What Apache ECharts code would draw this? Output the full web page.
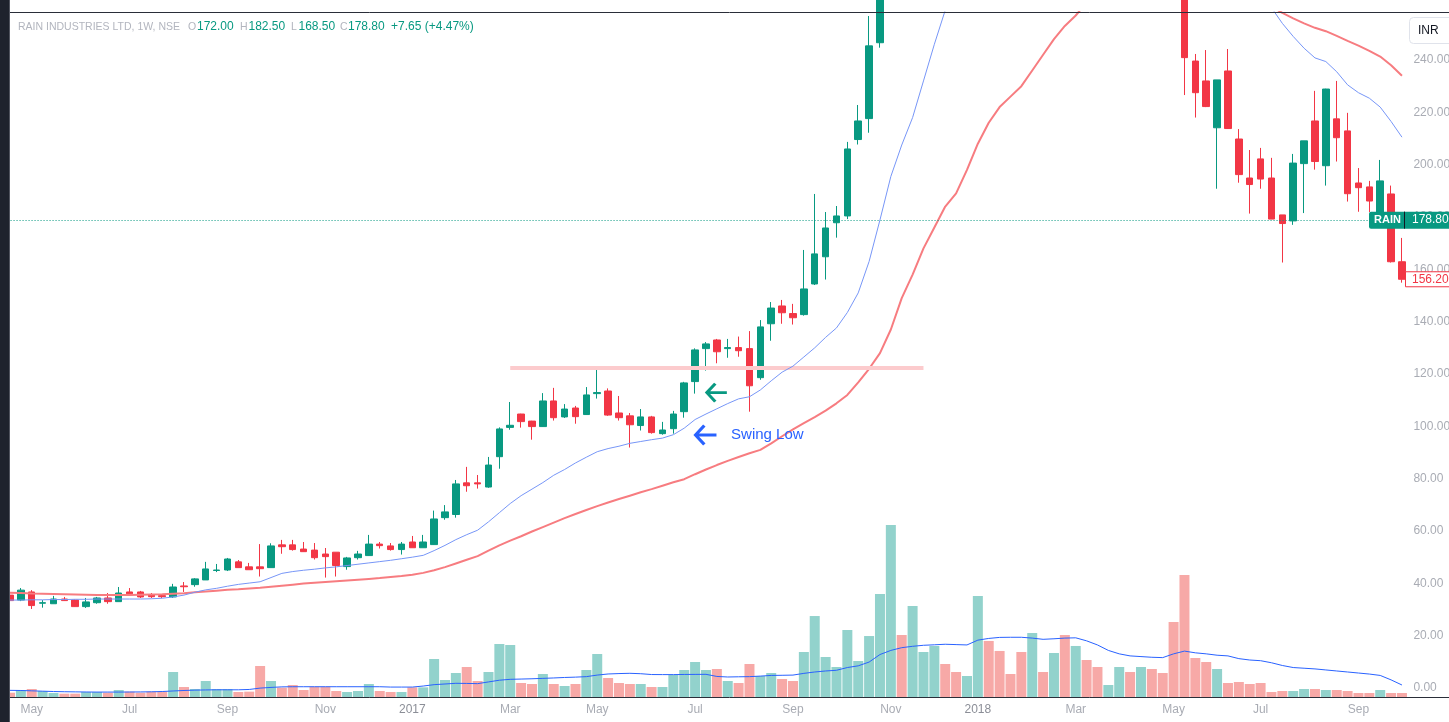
<!DOCTYPE html>
<html>
<head>
<meta charset="utf-8">
<title>RAIN INDUSTRIES LTD, 1W</title>
<script src="https://cdn.jsdelivr.net/npm/echarts@6/dist/echarts.min.js"></script>
<style>
  html, body { margin: 0; padding: 0; background: #ffffff; }
  #chart { width: 1449px; height: 722px; }
</style>
</head>
<body>
<div id="chart"></div>
<script>
/* -------------------------------------------------------------------------- */
/*                 RAIN weekly candles, volume and moving averages            */
/* -------------------------------------------------------------------------- */
const firstWeek = '2016-04-18';
const weekCount = 129;
const monthNames = ['Jan', 'Feb', 'Mar', 'Apr', 'May', 'Jun', 'Jul', 'Aug', 'Sep', 'Oct', 'Nov', 'Dec'];

// [open, close, low, high] per week
const candles = [
  [35.5, 33.4, 33.0, 35.9], [33.6, 37.4, 33.2, 38.2], [36.7, 31.5, 30.2, 37.4], [32.4, 32.6, 30.7, 33.6],
  [32.2, 34.0, 32.2, 35.2], [34.0, 33.4, 33.3, 34.8], [33.6, 31.1, 31.0, 33.8], [31.1, 32.9, 30.6, 34.4],
  [32.6, 34.4, 32.2, 34.8], [34.4, 33.0, 32.2, 36.3], [33.0, 36.3, 33.0, 38.6], [36.7, 36.0, 36.0, 38.2],
  [36.7, 34.8, 34.4, 37.1], [35.5, 34.9, 34.4, 36.3], [35.3, 34.9, 34.4, 35.9], [34.8, 38.6, 34.4, 39.8],
  [39.0, 38.7, 36.7, 40.5], [39.5, 41.7, 38.7, 42.0], [41.3, 45.5, 41.3, 48.2], [44.9, 45.1, 44.3, 47.4],
  [45.1, 49.3, 44.7, 49.7], [48.2, 46.0, 46.0, 48.9], [46.3, 45.2, 45.2, 47.8], [46.3, 45.6, 42.6, 55.0],
  [46.0, 54.3, 46.0, 55.3], [54.7, 54.0, 51.3, 56.6], [54.7, 52.9, 52.5, 56.6], [53.1, 52.1, 52.0, 55.8],
  [52.7, 49.8, 49.1, 55.4], [51.2, 50.2, 42.2, 53.5], [51.9, 46.8, 42.6, 51.9], [46.4, 49.7, 45.2, 50.1],
  [49.8, 51.2, 49.1, 52.4], [50.6, 55.0, 50.5, 58.5], [55.0, 54.4, 53.3, 55.8], [54.3, 52.9, 52.5, 55.4],
  [52.9, 55.0, 51.0, 55.8], [55.8, 53.6, 53.6, 58.1], [53.6, 55.8, 53.6, 58.5], [54.8, 64.6, 54.7, 67.8],
  [65.1, 67.3, 64.3, 69.9], [66.3, 78.0, 65.1, 79.5], [78.4, 77.3, 75.0, 84.5], [78.4, 78.0, 76.2, 81.4],
  [76.8, 85.2, 76.5, 88.3], [88.4, 99.0, 83.8, 99.6], [99.6, 100.4, 98.7, 109.3], [104.7, 101.8, 99.5, 104.8],
  [102.0, 99.9, 94.9, 102.1], [99.9, 109.7, 99.8, 112.7], [109.7, 103.3, 102.2, 114.7], [103.6, 106.6, 103.2, 108.5],
  [107.0, 103.7, 101.0, 107.8], [104.5, 112.0, 104.4, 115.0], [112.5, 112.9, 110.6, 122.7], [113.5, 104.3, 104.0, 114.5],
  [105.1, 103.3, 102.2, 111.6], [104.0, 100.6, 91.9, 105.1], [100.3, 103.6, 98.4, 106.6], [103.6, 97.6, 97.2, 104.0],
  [97.2, 98.6, 96.8, 101.7], [99.1, 104.7, 97.2, 105.9], [105.6, 116.6, 103.3, 117.0], [117.1, 129.2, 112.5, 129.8],
  [129.7, 131.5, 121.3, 132.2], [133.0, 128.5, 124.1, 133.4], [129.7, 130.1, 126.2, 133.4], [130.1, 128.9, 126.6, 134.3],
  [129.7, 115.5, 105.6, 136.4], [118.6, 138.0, 117.8, 140.6], [139.2, 145.2, 132.7, 147.5], [146.0, 143.4, 139.2, 148.3],
  [143.1, 141.5, 138.9, 146.8], [142.7, 152.5, 142.3, 167.4], [154.4, 165.9, 154.0, 188.8], [164.8, 175.8, 156.1, 181.9],
  [177.8, 180.4, 172.1, 184.2], [180.4, 206.0, 179.2, 208.7], [209.6, 216.7, 207.7, 222.8], [217.6, 245.4, 212.2, 256.8],
  [246.6, 268, 244.7, 275], [268, 305, 265, 312], [305, 292, 285, 318], [292, 330, 288, 335],
  [330, 342, 322, 350], [342, 360, 336, 368], [360, 348, 340, 366], [348, 340, 332, 355],
  [340, 365, 338, 370], [365, 420, 362, 440], [420, 398, 390, 430], [398, 380, 372, 405],
  [380, 372, 366, 386], [372, 350, 345, 378], [350, 380, 345, 385], [380, 368, 362, 386],
  [368, 385, 360, 390], [385, 355, 350, 392], [355, 368, 348, 372], [368, 352, 345, 374],
  [352, 340, 335, 358], [340, 348, 336, 352], [348, 365, 344, 370], [365, 355, 350, 370],
  [355, 362, 350, 368], [362, 350, 345, 366], [350, 345, 340, 356], [345, 300, 290, 348],
  [300, 240.9, 226.6, 305], [239.6, 227.5, 218.0, 242.3], [232.0, 222.2, 222.0, 243.8], [214.1, 232.4, 190.8, 232.4],
  [235.8, 213.8, 213.7, 244.2], [209.8, 196.2, 193.1, 213.6], [194.9, 192.4, 181.3, 205.6], [202.2, 194.5, 190.8, 206.4],
  [194.9, 179.2, 179.2, 202.6], [180.8, 177.5, 162.6, 180.8], [178.5, 200.6, 177.0, 204.1], [200.4, 209.1, 181.5, 209.1],
  [216.7, 201.2, 198.1, 228.2], [199.6, 228.9, 192.0, 229.0], [217.5, 210.3, 201.2, 232.0], [212.9, 188.9, 185.9, 219.8],
  [193.0, 191.2, 182.0, 198.7], [191.5, 186.1, 181.9, 193.8], [180.0, 193.8, 178.0, 201.8], [188.8, 162.9, 162.6, 192.0],
  [162.9, 156.2, 154.9, 172.0]
];

// weekly volume, millions of shares
const volume = [
  0.63, 1.02, 1.17, 0.88, 0.58, 0.49, 0.49, 0.73, 0.73, 0.63,
  1.02, 0.78, 0.63, 0.78, 0.78, 3.65, 1.46, 1.17, 2.34, 1.17,
  1.17, 0.73, 0.78, 4.53, 2.34, 1.36, 1.75, 1.02, 1.51, 1.51,
  0.88, 0.73, 0.88, 1.9, 0.88, 0.73, 0.73, 1.41, 1.41, 5.55,
  2.48, 3.5, 4.38, 2.34, 3.65, 7.74, 7.59, 2.04, 1.9, 3.36,
  1.9, 1.61, 1.9, 3.94, 6.28, 2.77, 2.04, 1.9, 1.9, 1.46,
  1.46, 3.21, 3.94, 5.11, 3.94, 4.09, 2.34, 2.04, 4.82, 3.07,
  3.5, 2.63, 2.34, 6.57, 11.82, 5.84, 4.38, 9.78, 5.26, 8.9,
  15.04, 25.1, 9.05, 13.28, 6.57, 7.45, 4.82, 3.65, 3.07, 14.74,
  8.18, 6.72, 3.36, 6.57, 9.34, 3.65, 6.42, 9.05, 7.45, 5.4,
  4.38, 1.75, 4.38, 3.65, 4.38, 4.09, 3.5, 10.95, 17.81, 5.69,
  5.11, 4.09, 2.04, 2.19, 1.9, 2.04, 0.73, 0.88, 0.88, 1.17,
  1.17, 1.02, 1.02, 0.88, 0.58, 0.58, 1.02, 0.58, 0.58
];

// fast moving average (thin blue)
const maFast = [
  33.6, 33.6, 33.7, 33.7, 33.8, 33.8, 33.9, 33.9, 34.0, 34.0,
  34.0, 34.0, 34.0, 34.1, 34.3, 34.8, 35.5, 36.6, 37.5, 38.1,
  38.9, 39.6, 40.1, 40.6, 42.2, 43.8, 44.5, 45.0, 45.4, 45.9,
  46.3, 46.8, 47.3, 47.8, 48.3, 48.8, 49.4, 50.0, 50.7, 52.5,
  54.5, 56.7, 58.6, 60.3, 63.5, 67.0, 70.5, 73.5, 76.0, 78.5,
  81.3, 83.5, 86.0, 88.2, 90.3, 91.5, 92.4, 93.5, 94.2, 94.9,
  95.5, 96.8, 99.3, 102.6, 104.7, 106.7, 108.7, 110.5, 111.3, 113.9,
  117.4, 120.7, 123.0, 126.5, 130.0, 134.0, 137.6, 143.5, 151.0, 163.0,
  178.9, 195.5, 207.5, 218.0, 232.0, 246.0, 259.0, 272, 285, 298,
  312, 322, 330, 338, 345, 350, 355, 358, 360, 360,
  358, 355, 352, 350, 346, 340, 332, 322, 310, 300,
  292, 284, 278, 272, 267, 263, 260, 254, 249, 244.5,
  240.8, 239.4, 235.5, 230.5, 227.5, 225.4, 222.0, 216.5, 210.5
];

// slow moving average (thick red)
const maSlow = [
  36.4, 36.3, 36.1, 36.0, 35.9, 35.8, 35.7, 35.6, 35.5, 35.5,
  35.5, 35.5, 35.6, 35.7, 35.8, 36.0, 36.2, 36.6, 36.9, 37.2,
  37.5, 37.7, 38.0, 38.3, 38.7, 39.1, 39.5, 39.9, 40.2, 40.5,
  40.8, 41.1, 41.4, 41.7, 42.0, 42.4, 42.8, 43.3, 44.0, 45.0,
  46.2, 47.6, 49.0, 50.4, 52.5, 54.5, 56.3, 58.0, 59.8, 61.5,
  63.2, 64.9, 66.5, 68.0, 69.5, 70.9, 72.2, 73.5, 74.8, 76.0,
  77.3, 78.6, 79.8, 81.7, 83.5, 85.2, 86.8, 88.3, 89.7, 91.0,
  93.5, 96.2, 98.8, 101.2, 103.5, 106.0, 108.8, 112.0, 116.8, 122.0,
  128.0, 137.0, 149.0, 158.0, 168.0, 176.0, 184.0, 189.0, 198.0, 208.0,
  216.0, 222.0, 226.0, 230.0, 236.0, 242.0, 248.0, 253.0, 257.0, 262.0,
  266, 270, 274, 278, 281, 283, 284, 284, 283, 281,
  278, 275, 272, 269, 266, 263, 260.5, 258.0, 255.9, 254.0,
  252.3, 251.0, 249.2, 247.3, 245.5, 243.5, 241.3, 238.0, 234.0
];

// volume moving average
const volumeMa = [
  0.97, 0.95, 0.9, 0.85, 0.8, 0.77, 0.75, 0.73, 0.72, 0.72,
  0.72, 0.73, 0.74, 0.76, 0.8, 0.88, 0.95, 1.0, 1.03, 1.05,
  1.05, 1.05, 1.1, 1.3, 1.4, 1.48, 1.5, 1.5, 1.5, 1.5,
  1.5, 1.5, 1.5, 1.5, 1.5, 1.45, 1.45, 1.45, 1.6, 1.8,
  1.9, 2.0, 1.98, 1.95, 2.2, 2.45, 2.58, 2.62, 2.66, 2.72,
  2.78, 2.85, 2.9, 2.97, 3.2, 3.36, 3.42, 3.46, 3.4, 3.28,
  3.27, 3.27, 3.29, 3.3, 3.31, 3.0, 2.92, 2.95, 2.97, 3.05,
  3.15, 3.17, 3.2, 3.45, 3.65, 3.8, 3.9, 4.3, 4.55, 5.1,
  6.2, 6.8, 7.2, 7.4, 7.55, 7.62, 7.7, 7.65, 7.6, 8.3,
  8.55, 8.7, 8.72, 8.72, 8.6, 8.42, 8.5, 8.6, 8.64, 8.2,
  7.6, 6.8, 6.3, 6.0, 5.9, 5.8, 5.75, 6.3, 6.7, 6.45,
  6.3, 6.1, 6.0, 5.6, 5.4, 5.3, 5.0, 4.6, 4.3, 4.2,
  4.1, 3.95, 3.8, 3.65, 3.5, 3.35, 3.15, 2.5, 1.75
];

const resistance = { from: 46, to: 84, price: 122.3 };
const lastClose = 178.8;
const lastPrice = 156.2;
const header = {
  name: 'RAIN INDUSTRIES LTD, 1W, NSE',
  open: '172.00', high: '182.50', low: '168.50', close: '178.80', change: '+7.65 (+4.47%)'
};

const weeks = [];
for (let i = 0; i < weekCount; i++) {
  const d = new Date(Date.parse(firstWeek + 'T00:00:00Z') + i * 7 * 86400000);
  weeks.push(d.toISOString().slice(0, 10));
}

const UP = '#089981';
const DOWN = '#f23645';
const FONT = 'Liberation Sans, Arial, sans-serif';
const AXIS_TEXT = '#a9acb4';
const HEAD_TEXT = '#b2b5be';

const arrowPath = 'path://M9,1 L1,9 L9,17 M1,9 L20,9';

const chart = echarts.init(document.getElementById('chart'));

chart.setOption({
  animation: false,
  backgroundColor: '#ffffff',
  grid: {
    left: 4.56, right: 41.6, top: 12, bottom: 25,
    containLabel: false, outerBoundsMode: 'none'
  },
  xAxis: {
    type: 'category',
    data: weeks,
    boundaryGap: true,
    axisLine: { show: false },
    axisTick: { show: false },
    splitLine: { show: false },
    axisLabel: {
      margin: 7,
      color: AXIS_TEXT,
      fontFamily: FONT,
      fontSize: 12,
      interval: (idx, value) => {
        const d = new Date(value + 'T00:00:00Z');
        return d.getUTCDate() <= 7 && d.getUTCMonth() % 2 === 0;
      },
      formatter: value => {
        const d = new Date(value + 'T00:00:00Z');
        return d.getUTCMonth() === 0 ? `{y|${d.getUTCFullYear()}}` : monthNames[d.getUTCMonth()];
      },
      rich: { y: { color: '#8b8e97', fontFamily: FONT, fontSize: 12 } }
    }
  },
  yAxis: [
    {
      type: 'value',
      position: 'right',
      min: -3.44,
      max: 258.34,
      splitNumber: 13,
      axisLine: { show: false },
      axisTick: { show: false },
      splitLine: { show: false },
      axisLabel: {
        margin: 6,
        showMinLabel: false,
        showMaxLabel: false,
        color: AXIS_TEXT,
        fontFamily: FONT,
        fontSize: 12,
        formatter: v => (Math.abs(v / 20 - Math.round(v / 20)) < 1e-6 ? v.toFixed(2) : '')
      }
    },
    { type: 'value', min: 0, max: 100, show: false }
  ],
  series: [
    {
      name: 'Volume',
      type: 'bar',
      yAxisIndex: 1,
      barWidth: 10,
      z: 1,
      data: volume.map((v, i) => ({
        value: v,
        itemStyle: { color: candles[i][1] >= candles[i][0] ? '#92d2cc' : '#f7a9a7' }
      }))
    },
    {
      name: 'Volume MA',
      type: 'line',
      yAxisIndex: 1,
      data: volumeMa,
      showSymbol: false,
      lineStyle: { color: '#2962ff', width: 1 },
      z: 2
    },
    {
      name: 'RAIN',
      type: 'candlestick',
      data: candles,
      barWidth: 7,
      z: 3,
      itemStyle: {
        color: UP, color0: DOWN,
        borderColor: UP, borderColor0: DOWN,
        borderWidth: 1
      },
      markLine: {
        silent: true,
        symbol: 'none',
        label: { show: false },
        data: [
          { yAxis: lastClose, lineStyle: { type: [1, 2], color: UP, width: 1 } },
          [
            { coord: [resistance.from, resistance.price], lineStyle: { type: 'solid', color: '#fccbcd', width: 4 } },
            { coord: [resistance.to, resistance.price] }
          ]
        ]
      },
      markPoint: {
        silent: true,
        data: [
          {
            coord: [65, 112.9],
            symbol: arrowPath,
            symbolSize: [20, 18],
            itemStyle: { color: 'transparent', borderColor: UP, borderWidth: 3 },
            label: { show: false }
          },
          {
            coord: [64, 96.7],
            symbol: arrowPath,
            symbolSize: [21, 19],
            itemStyle: { color: 'transparent', borderColor: '#2962ff', borderWidth: 3 },
            label: {
              show: true,
              position: 'right',
              distance: 13,
              formatter: 'Swing Low',
              color: '#2962ff',
              fontFamily: FONT,
              fontSize: 15
            }
          }
        ]
      }
    },
    {
      name: 'MA slow',
      type: 'line',
      data: maSlow,
      showSymbol: false,
      lineStyle: { color: '#f77c80', width: 2 },
      z: 4
    },
    {
      name: 'MA fast',
      type: 'line',
      data: maFast,
      showSymbol: false,
      lineStyle: { color: '#7796f7', width: 1 },
      z: 5
    }
  ]
});

const buildGraphics = () => {
  const yClose = chart.convertToPixel({ yAxisIndex: 0 }, lastClose);
  const yLast = chart.convertToPixel({ yAxisIndex: 0 }, lastPrice);
  const text = (x, y, t, fill, size, weight) => ({
    type: 'text', x, y, z: 110,
    style: {
      text: t, fill, font: `${weight || 'normal'} ${size}px ${FONT}`,
      verticalAlign: 'middle', align: 'left'
    }
  });
  return [
    { type: 'rect', shape: { x: 0, y: 0, width: 10, height: 722 }, style: { fill: '#1e222d' }, z: 100 },
    { type: 'rect', shape: { x: 9, y: 0, width: 1, height: 722 }, style: { fill: '#50535e' }, z: 100 },
    { type: 'line', shape: { x1: 10, y1: 12.5, x2: 1449, y2: 12.5 }, style: { stroke: '#2a2e39', lineWidth: 1 }, z: 100 },
    { type: 'line', shape: { x1: 10, y1: 697.5, x2: 1449, y2: 697.5 }, style: { stroke: '#2a2e39', lineWidth: 1 }, z: 100 },

    text(18, 27, header.name, HEAD_TEXT, 10.5),
    text(188, 27, 'O', HEAD_TEXT, 10.5), text(197, 27, header.open, UP, 12),
    text(240, 27, 'H', HEAD_TEXT, 10.5), text(248.5, 27, header.high, UP, 12),
    text(291, 27, 'L', HEAD_TEXT, 10.5), text(298.5, 27, header.low, UP, 12),
    text(340, 27, 'C', HEAD_TEXT, 10.5), text(348, 27, header.close, UP, 12),
    text(391, 27, header.change, UP, 12),

    { type: 'rect', shape: { x: 1409.5, y: 17.5, width: 44, height: 26, r: 4 }, style: { fill: '#ffffff', stroke: '#e0e3eb', lineWidth: 1 }, z: 105 },
    text(1418, 31, 'INR', '#131722', 12),

    { type: 'rect', shape: { x: 1369, y: yClose - 8.5, width: 35, height: 17, r: [2, 0, 0, 2] }, style: { fill: UP }, z: 105 },
    text(1374, yClose, 'RAIN', '#ffffff', 11, 'bold'),
    { type: 'rect', shape: { x: 1404, y: yClose - 8.5, width: 45, height: 17 }, style: { fill: UP }, z: 105 },
    { type: 'line', shape: { x1: 1404.5, y1: yClose - 8.5, x2: 1404.5, y2: yClose + 8.5 }, style: { stroke: '#131722', lineWidth: 1 }, z: 106 },
    text(1412, yClose, lastClose.toFixed(2), '#ffffff', 12),

    { type: 'rect', shape: { x: 1405.5, y: yLast - 7.5, width: 44, height: 15 }, style: { fill: '#ffffff', stroke: DOWN, lineWidth: 1 }, z: 105 },
    text(1412, yLast, lastPrice.toFixed(2), DOWN, 12)
  ];
};

chart.setOption({ graphic: buildGraphics() });
</script>
</body>
</html>
